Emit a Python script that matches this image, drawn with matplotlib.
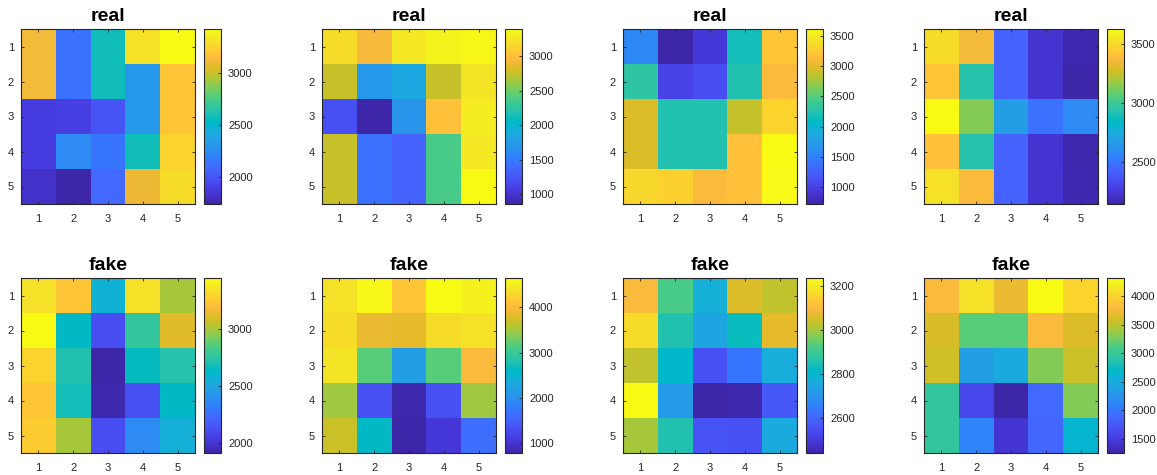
import numpy as np
import matplotlib
matplotlib.use("Agg")
import matplotlib.pyplot as plt
from matplotlib.colors import LinearSegmentedColormap

# Parula-style colormap (64 control colours)
PARULA_RGB = [
    (0.2422, 0.1504, 0.6603), (0.2504, 0.1650, 0.7076), (0.2578, 0.1818, 0.7511),
    (0.2647, 0.1978, 0.7952), (0.2706, 0.2147, 0.8364), (0.2751, 0.2342, 0.8710),
    (0.2783, 0.2559, 0.8991), (0.2803, 0.2782, 0.9221), (0.2813, 0.3006, 0.9414),
    (0.2810, 0.3228, 0.9579), (0.2795, 0.3447, 0.9717), (0.2760, 0.3667, 0.9829),
    (0.2699, 0.3892, 0.9906), (0.2602, 0.4123, 0.9952), (0.2440, 0.4358, 0.9988),
    (0.2206, 0.4603, 0.9973), (0.1963, 0.4847, 0.9892), (0.1834, 0.5074, 0.9798),
    (0.1786, 0.5289, 0.9682), (0.1764, 0.5499, 0.9520), (0.1687, 0.5703, 0.9359),
    (0.1540, 0.5902, 0.9218), (0.1460, 0.6091, 0.9079), (0.1380, 0.6276, 0.8973),
    (0.1248, 0.6459, 0.8883), (0.1113, 0.6635, 0.8763), (0.0952, 0.6798, 0.8598),
    (0.0689, 0.6948, 0.8394), (0.0297, 0.7082, 0.8163), (0.0036, 0.7203, 0.7917),
    (0.0067, 0.7312, 0.7660), (0.0433, 0.7411, 0.7394), (0.0964, 0.7500, 0.7120),
    (0.1408, 0.7584, 0.6842), (0.1717, 0.7670, 0.6554), (0.1938, 0.7758, 0.6251),
    (0.2161, 0.7843, 0.5923), (0.2470, 0.7918, 0.5567), (0.2906, 0.7973, 0.5188),
    (0.3406, 0.8008, 0.4789), (0.3909, 0.8029, 0.4354), (0.4456, 0.8024, 0.3909),
    (0.5044, 0.7993, 0.3480), (0.5616, 0.7942, 0.3045), (0.6174, 0.7876, 0.2612),
    (0.6720, 0.7793, 0.2227), (0.7242, 0.7698, 0.1910), (0.7738, 0.7598, 0.1646),
    (0.8203, 0.7498, 0.1535), (0.8634, 0.7406, 0.1596), (0.9035, 0.7330, 0.1774),
    (0.9393, 0.7288, 0.2100), (0.9728, 0.7298, 0.2394), (0.9956, 0.7434, 0.2371),
    (0.9970, 0.7659, 0.2199), (0.9952, 0.7893, 0.2028), (0.9892, 0.8136, 0.1885),
    (0.9786, 0.8386, 0.1766), (0.9676, 0.8639, 0.1643), (0.9610, 0.8890, 0.1537),
    (0.9597, 0.9135, 0.1423), (0.9628, 0.9373, 0.1265), (0.9691, 0.9606, 0.1064),
    (0.9769, 0.9839, 0.0805),
]
parula = LinearSegmentedColormap.from_list("parula", PARULA_RGB, N=256)

# ---- data: 5x5 matrices (rows top->bottom) ----
real_1 = [
    [3120, 2130, 2580, 3310, 3426],
    [3120, 2130, 2580, 2310, 3190],
    [1880, 1890, 1990, 2310, 3190],
    [1880, 2240, 2140, 2580, 3260],
    [1820, 1735, 2080, 3100, 3290],
]
real_2 = [
    [3195, 2960, 3270, 3340, 3370],
    [2760, 1720, 1850, 2760, 3245],
    [1210, 855, 1695, 3015, 3290],
    [2760, 1440, 1340, 2380, 3270],
    [2760, 1440, 1340, 2380, 3398],
]
real_3 = [
    [1560, 725, 930, 2170, 3210],
    [2310, 1015, 1100, 2225, 3120],
    [2975, 2225, 2225, 2870, 3320],
    [2975, 2225, 2225, 3180, 3610],
    [3350, 3300, 3120, 3180, 3590],
]
real_4 = [
    [3510, 3360, 2430, 2235, 2170],
    [3420, 2930, 2430, 2235, 2147],
    [3627, 3140, 2680, 2490, 2590],
    [3405, 2930, 2430, 2235, 2160],
    [3525, 3375, 2430, 2235, 2165],
]
fake_1 = [
    [3340, 3230, 2570, 3340, 3000],
    [3444, 2630, 2110, 2770, 3110],
    [3290, 2710, 1911, 2650, 2720],
    [3230, 2680, 1925, 2125, 2630],
    [3260, 3000, 2110, 2370, 2555],
]
fake_2 = [
    [4380, 4610, 4110, 4650, 4530],
    [4340, 3880, 3840, 4340, 4380],
    [4420, 3180, 2180, 3180, 3990],
    [3490, 1330, 830, 1330, 3490],
    [3690, 2600, 790, 1060, 1640],
]
fake_3 = [
    [3100, 2918, 2775, 3060, 3030],
    [3170, 2855, 2745, 2830, 3068],
    [3030, 2805, 2555, 2633, 2768],
    [3234, 2720, 2443, 2450, 2570],
    [3005, 2855, 2560, 2555, 2760],
]
fake_4 = [
    [3795, 4100, 3700, 4313, 4010],
    [3610, 3150, 3150, 3790, 3640],
    [3580, 2360, 2480, 3300, 3550],
    [2970, 1595, 1258, 1900, 3300],
    [2970, 2115, 1440, 1870, 2630],
]

titles = ["real", "real", "real", "real", "fake", "fake", "fake", "fake"]
matrices = [real_1, real_2, real_3, real_4, fake_1, fake_2, fake_3, fake_4]
axis_ticks = [1, 2, 3, 4, 5]
cbar_ticks = [
    [2000, 2500, 3000],
    [1000, 1500, 2000, 2500, 3000],
    [1000, 1500, 2000, 2500, 3000, 3500],
    [2500, 3000, 3500],
    [2000, 2500, 3000],
    [1000, 2000, 3000, 4000],
    [2600, 2800, 3000, 3200],
    [1500, 2000, 2500, 3000, 3500, 4000],
]

# ---- layout (pixel geometry) ----
W, H = 1157, 475
DPI = 100
plt.rcParams["font.family"] = ["Liberation Sans", "DejaVu Sans"]
TXT = "#262626"
EDGE = "#262626"

fig = plt.figure(figsize=(W / DPI, H / DPI), dpi=DPI)

col_x = [21, 322, 623, 924]
cbar_x = [204, 505, 806, 1107]
row_top = [29, 278]
img_w, img_h = 174, 175
cb_w = 17


def px_rect(x, y_top, w, h):
    return [x / W, (H - y_top - h) / H, w / W, h / H]


for k, (mat, title) in enumerate(zip(matrices, titles)):
    r, c = divmod(k, 4)
    data = np.array(mat, dtype=float)
    ax = fig.add_axes(px_rect(col_x[c], row_top[r], img_w, img_h))
    im = ax.imshow(data, cmap=parula, vmin=data.min(), vmax=data.max(),
                   interpolation="nearest", aspect="auto",
                   extent=(0.5, 5.5, 5.5, 0.5))
    ax.set_xticks(axis_ticks)
    ax.set_yticks(axis_ticks)
    ax.tick_params(direction="in", length=2.5, width=0.6, colors=EDGE,
                   labelcolor=TXT, labelsize=8, top=True, right=True,
                   labeltop=False, labelright=False)
    ax.tick_params(axis="x", pad=7)
    ax.tick_params(axis="y", pad=5)
    for sp in ax.spines.values():
        sp.set_color(EDGE)
        sp.set_linewidth(0.8)
    ax.set_title(title, fontsize=14, fontweight="bold", color="black", pad=6)

    cax = fig.add_axes(px_rect(cbar_x[c], row_top[r], cb_w, img_h))
    cb = fig.colorbar(im, cax=cax)
    cb.set_ticks(cbar_ticks[k])
    cb.ax.tick_params(direction="in", length=2.5, width=0.6, colors=EDGE,
                      labelcolor=TXT, labelsize=8, pad=5)
    cb.outline.set_edgecolor(EDGE)
    cb.outline.set_linewidth(0.8)

fig.savefig("out.png", dpi=DPI)
